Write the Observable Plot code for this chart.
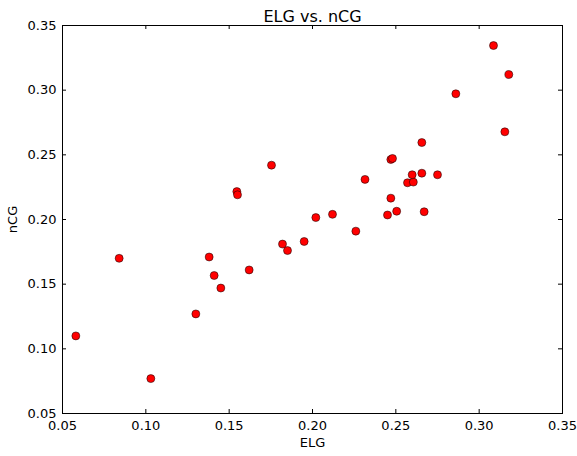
<!DOCTYPE html>
<html>
<head>
<meta charset="utf-8">
<script src="https://cdn.jsdelivr.net/npm/d3@7"></script>
<script src="https://cdn.jsdelivr.net/npm/@observablehq/plot@0.6"></script>
<style>
  html, body { margin: 0; padding: 0; background: #fff; }
  #chart svg { display: block; }
</style>
</head>
<body>
<div id="chart"></div>
<script>
const elg = [0.058, 0.084, 0.103, 0.130, 0.138, 0.141, 0.145, 0.1546, 0.155, 0.162, 0.1754,
  0.182, 0.185, 0.195, 0.202, 0.212, 0.226, 0.2315, 0.245, 0.247, 0.247, 0.248, 0.2505,
  0.257, 0.2605, 0.2598, 0.2656, 0.2656, 0.267, 0.275, 0.286, 0.3086, 0.3154, 0.3178];
const ncg = [0.110, 0.170, 0.077, 0.127, 0.171, 0.1567, 0.147, 0.2216, 0.2191, 0.161, 0.242,
  0.181, 0.176, 0.183, 0.2015, 0.204, 0.191, 0.231, 0.2035, 0.2165, 0.2464, 0.2472, 0.2064,
  0.2284, 0.2289, 0.2346, 0.2358, 0.2595, 0.206, 0.2346, 0.2972, 0.3345, 0.2678, 0.3121];
const ticks = [0.05, 0.10, 0.15, 0.20, 0.25, 0.30, 0.35];
const titleText = "ELG vs. nCG";
const xLabel = "ELG";
const yLabel = "nCG";

const points = elg.map((x, i) => ({x, y: ncg[i]}));
const W = 577, H = 456, mL = 62, mR = 15, mT = 25, mB = 43;
const innerW = W - mL - mR, innerH = H - mT - mB;
const tl = 4;

const chart = Plot.plot({
  width: W, height: H,
  marginLeft: mL, marginRight: mR, marginTop: mT, marginBottom: mB,
  style: {fontFamily: "DejaVu Sans", background: "#fff", color: "#000"},
  x: {domain: [0.05, 0.35], ticks: ticks, label: null},
  y: {domain: [0.05, 0.35], ticks: ticks, label: null},
  marks: [
    Plot.dot(points, {x: "x", y: "y", r: 4, fill: "red", stroke: "#000", strokeWidth: 0.5}),
    Plot.tickX(ticks, {x: d => d, insetTop: innerH - tl, stroke: "#000"}),
    Plot.tickX(ticks, {x: d => d, insetBottom: innerH - tl, stroke: "#000"}),
    Plot.tickY(ticks, {y: d => d, insetRight: innerW - tl, stroke: "#000"}),
    Plot.tickY(ticks, {y: d => d, insetLeft: innerW - tl, stroke: "#000"}),
    Plot.frame({stroke: "#000", strokeWidth: 1}),
    Plot.axisX({ticks: ticks, tickSize: 0, tickPadding: 7, tickFormat: d3.format(".2f"), fontSize: 13, label: null}),
    Plot.axisY({ticks: ticks, tickSize: 0, tickPadding: 6, tickFormat: d3.format(".2f"), fontSize: 13, label: null}),
    Plot.text([titleText], {frameAnchor: "top", lineAnchor: "middle", dy: -9, fontSize: 16, text: d => d, fill: "#000"}),
    Plot.text([xLabel], {frameAnchor: "bottom", lineAnchor: "middle", dy: 29.5, fontSize: 13, text: d => d, fill: "#000"}),
    Plot.text([yLabel], {frameAnchor: "left", textAnchor: "middle", lineAnchor: "middle", dx: -49.5, rotate: -90, fontSize: 13, text: d => d, fill: "#000"})
  ]
});
document.getElementById("chart").appendChild(chart);
</script>
</body>
</html>
